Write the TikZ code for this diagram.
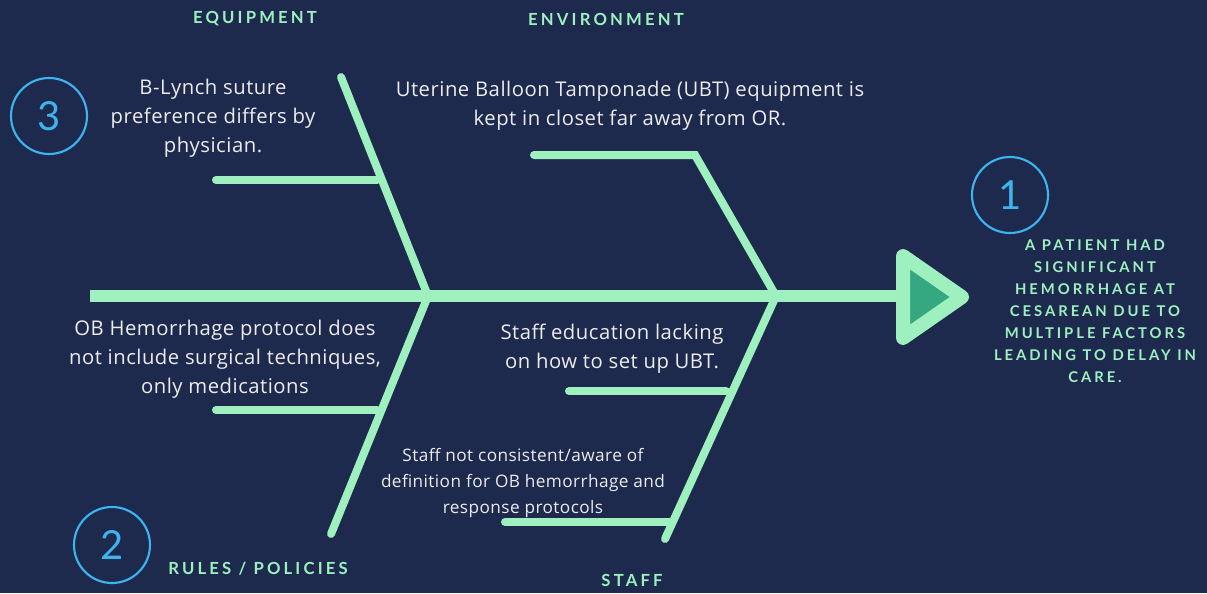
\documentclass[tikz,border=0pt]{standalone}
\usepackage{fontspec}
\setmainfont[LetterSpace=2.5]{Open Sans}
\newfontfamily\headfont[LetterSpace=19]{Lato}
\newfontfamily\efffont[LetterSpace=20]{Lato}
\newfontfamily\numfont{Lato}
\usetikzlibrary{calc}
\definecolor{bg}{HTML}{1D2A4E}
\definecolor{mint}{HTML}{9EF0BF}
\definecolor{darkmint}{HTML}{35A882}
\definecolor{cblue}{HTML}{3DB3F0}
\definecolor{txt}{HTML}{ECECEC}
\begin{document}
\begin{tikzpicture}[x=0.75pt,y=-0.75pt,
  bone/.style={draw=mint,line width=6pt,line cap=round},
  spine/.style={draw=mint,line width=8.5pt},
  head/.style={text=mint,font=\headfont\bfseries\fontsize{12.5}{15}\selectfont,inner sep=0pt},
  body/.style={text=txt,font=\fontsize{15.2}{21.8}\selectfont,align=center,inner sep=0pt},
  small/.style={text=txt,font=\fontsize{12.9}{19.5}\selectfont,align=center,inner sep=0pt},
  num/.style={circle,draw=cblue,line width=1.6pt,minimum size=57pt,text=cblue,font=\numfont\fontsize{30}{30}\selectfont,inner sep=0pt},
  effect/.style={text=mint,font=\efffont\bfseries\fontsize{11.1}{16.5}\selectfont,align=center,inner sep=0pt}]
\fill[bg] (0,0) rectangle (1207,593);
\useasboundingbox (0,0) rectangle (1207,593);
% spine
\coordinate (s0) at (90,296);
\coordinate (s1) at (902,296);
\coordinate (j1) at (428,296);
\coordinate (j2) at (776,296);
\draw[spine] (s0) -- (s1);
% head triangle
\coordinate (t1) at (903,256);
\coordinate (t2) at (903,338);
\coordinate (t3) at (962,297);
\draw[draw=mint,fill=darkmint,line width=10.5pt,line join=round] (t1) -- (t3) -- (t2) -- cycle;
% bones
\coordinate (b1) at (341,77);
\coordinate (b2) at (695,155);
\coordinate (b2e) at (534,155);
\coordinate (b3) at (331,534);
\coordinate (b4) at (665,539);
\draw[bone] (b1) -- (j1);
\draw[bone] (b2e) -- (b2) -- (j2);
\draw[bone] (b3) -- (j1);
\draw[bone] (b4) -- (j2);
% sub bones
\coordinate (e1a) at (216,180); \coordinate (e1b) at (377,180);
\coordinate (r1a) at (216,410); \coordinate (r1b) at (377,410);
\coordinate (f1a) at (569,391); \coordinate (f1b) at (726,391);
\coordinate (f2a) at (505,522); \coordinate (f2b) at (669,522);
\draw[bone] (e1a) -- (e1b);
\draw[bone] (r1a) -- (r1b);
\draw[bone] (f1a) -- (f1b);
\draw[bone] (f2a) -- (f2b);
% headings
\node[head] (hE) at (255,19) {EQUIPMENT};
\node[head] (hV) at (606,19) {ENVIRONMENT};
\node[head] (hR) at (258,569) {RULES / POLICIES};
\node[head] (hS) at (632,580) {STAFF};
% texts
\node[body] (tE) at (213,118) {B-Lynch suture\\preference differs by\\physician.};
\node[body] (tV) at (630,106) {Uterine Balloon Tamponade (UBT) equipment is\\kept in closet far away from OR.};
\node[body] (tR) at (225,359) {OB Hemorrhage protocol does\\not include surgical techniques,\\only medications};
\node[body] (tS) at (612,349) {Staff education lacking\\on how to set up UBT.};
\node[small] (tS2) at (523,483) {Staff not consistent/aware of\\definition for OB hemorrhage and\\response protocols};
% effect
\node[effect] (eff) at (1095,311) {A PATIENT HAD\\SIGNIFICANT\\HEMORRHAGE AT\\CESAREAN DUE TO\\MULTIPLE FACTORS\\LEADING TO DELAY IN\\CARE.};
% numbers
\node[num] (n1) at (1010,195) {1};
\node[num] (n3) at (49,116) {3};
\node[num] (n2) at (112,545) {2};
\end{tikzpicture}
\end{document}
